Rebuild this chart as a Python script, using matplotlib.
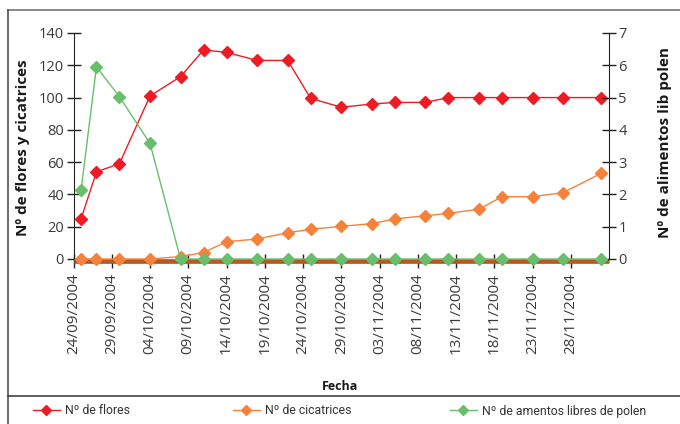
import matplotlib
matplotlib.use('Agg')
import matplotlib.pyplot as plt
from matplotlib.lines import Line2D
import pandas as pd

# ---- data ----
fechas = ['2004-09-25', '2004-09-27', '2004-09-30', '2004-10-04', '2004-10-08',
          '2004-10-11', '2004-10-14', '2004-10-18', '2004-10-22', '2004-10-25',
          '2004-10-29', '2004-11-02', '2004-11-05', '2004-11-09', '2004-11-12',
          '2004-11-16', '2004-11-19', '2004-11-23', '2004-11-27', '2004-12-02']
flores = [25, 54, 59, 101, 113, 129.5, 128, 123, 123, 99.5,
          94, 96, 97, 97, 100, 100, 100, 100, 100, 100]
cicatrices = [0, 0, 0, 0, 1.5, 4, 10.7, 12.4, 16.3, 18.4,
              20.2, 21.9, 24.8, 26.8, 28.3, 30.8, 38.6, 38.6, 41.1, 53.1]
amentos = [2.15, 5.95, 5.03, 3.58, 0, 0, 0, 0, 0, 0,
           0, 0, 0, 0, 0, 0, 0, 0, 0, 0]
tick_fechas = ['2004-09-24', '2004-09-29', '2004-10-04', '2004-10-09', '2004-10-14',
               '2004-10-19', '2004-10-24', '2004-10-29', '2004-11-03', '2004-11-08',
               '2004-11-13', '2004-11-18', '2004-11-23', '2004-11-28']
tick_labels = ['24/09/2004', '29/09/2004', '04/10/2004', '09/10/2004', '14/10/2004',
               '19/10/2004', '24/10/2004', '29/10/2004', '03/11/2004', '08/11/2004',
               '13/11/2004', '18/11/2004', '23/11/2004', '28/11/2004']
x_inicio, x_fin = '2004-09-24', '2004-12-03'
y1_ticks = [0, 20, 40, 60, 80, 100, 120, 140]
y2_ticks = [0, 1, 2, 3, 4, 5, 6, 7]
base_nivel = -1.0

x = pd.to_datetime(fechas)

ROJO = '#ED1C24'
NARANJA = '#F5813A'
VERDE = '#69BE6B'
MARRON = '#B45A22'
GRIS = '#3a3a3a'

plt.rcParams['font.family'] = ['Open Sans', 'DejaVu Sans']

fig = plt.figure(figsize=(6.8, 4.24), dpi=100)
W, H = 680, 424
L, R, T, B = 73.5, 609, 33, 259
ax = fig.add_axes([L / W, 1 - B / H, (R - L) / W, (B - T) / H])
ax2 = ax.twinx()

ms = 6
l1, = ax.plot(x, flores, color=ROJO, lw=1, marker='D', ms=ms, mec=ROJO, mfc=ROJO,
              clip_on=False, zorder=4, label='Nº de flores')
l2, = ax.plot(x, cicatrices, color=NARANJA, lw=1, marker='D', ms=ms, mec=NARANJA,
              mfc=NARANJA, clip_on=False, zorder=3, label='Nº de cicatrices')
l3, = ax2.plot(x, amentos, color=VERDE, lw=1, marker='D', ms=ms, mec=VERDE, mfc=VERDE,
               clip_on=False, zorder=3, label='Nº de amentos libres de polen')

ax.set_xlim(pd.Timestamp(x_inicio), pd.Timestamp(x_fin))
ax.set_ylim(y1_ticks[0], y1_ticks[-1])
ax2.set_ylim(y2_ticks[0], y2_ticks[-1])
ax.set_yticks(y1_ticks)
ax2.set_yticks(y2_ticks)
ax.set_xticks(pd.to_datetime(tick_fechas))
ax.set_xticklabels(tick_labels)

for s in ['top', 'right']:
    ax.spines[s].set_visible(False)
for s in ['top', 'bottom', 'left']:
    ax2.spines[s].set_visible(False)
ax.spines['bottom'].set_position(('data', base_nivel))
ax.spines['bottom'].set_color(MARRON)
ax.spines['bottom'].set_linewidth(3.4)
ax.spines['bottom'].set_capstyle('butt')
ax.spines['left'].set_color('#222222')
ax2.spines['right'].set_color('#222222')

ax.tick_params(axis='y', direction='inout', length=9.5, width=1, color='#222222',
               labelsize=10.5, labelcolor=GRIS, pad=2)
ax.tick_params(axis='x', direction='inout', length=9.5, width=1, color='#222222',
               labelsize=11, labelcolor=GRIS, labelrotation=90, pad=4)
ax2.tick_params(axis='y', direction='inout', length=9.5, width=1, color='#222222',
                labelsize=10.5, labelcolor=GRIS, pad=2)

fig.text(23.5 / W, 1 - 148 / H, 'Nº de flores y cicatrices', rotation=90, ha='center',
         va='center', fontsize=11, fontweight='bold', color='#1a1a1a')
fig.text(665 / W, 1 - 143 / H, 'Nº de alimentos lib polen', rotation=90, ha='center',
         va='center', fontsize=11, fontweight='bold', color='#1a1a1a')
fig.text(340 / W, 1 - 386 / H, 'Fecha', ha='center', va='center', fontsize=9,
         fontweight='bold', color='#1a1a1a')

# frame
fig.add_artist(Line2D([8 / W, 1], [1 - 10 / H, 1 - 10 / H], transform=fig.transFigure,
                      color='#808080', lw=1.3))
fig.add_artist(Line2D([8 / W, 8 / W], [1 - 10 / H, 0], transform=fig.transFigure,
                      color='#444444', lw=1.1))
fig.add_artist(Line2D([8 / W, 1], [1 - 396 / H, 1 - 396 / H], transform=fig.transFigure,
                      color='#333333', lw=1.1))

# legend: one entry per anchor, as in the reference
for handle, x0 in zip([l1, l2, l3], [33, 233, 450]):
    leg = fig.legend(handles=[handle], loc='center left',
                     bbox_to_anchor=(x0 / W, 1 - 411 / H), frameon=False,
                     prop={'family': ['Roboto', 'DejaVu Sans'], 'size': 8.8},
                     handlelength=2.2, handletextpad=0.45,
                     markerscale=0.8, borderaxespad=0, borderpad=0)
    for t in leg.get_texts():
        t.set_color('#333333')

fig.savefig('out.png', dpi=100)
